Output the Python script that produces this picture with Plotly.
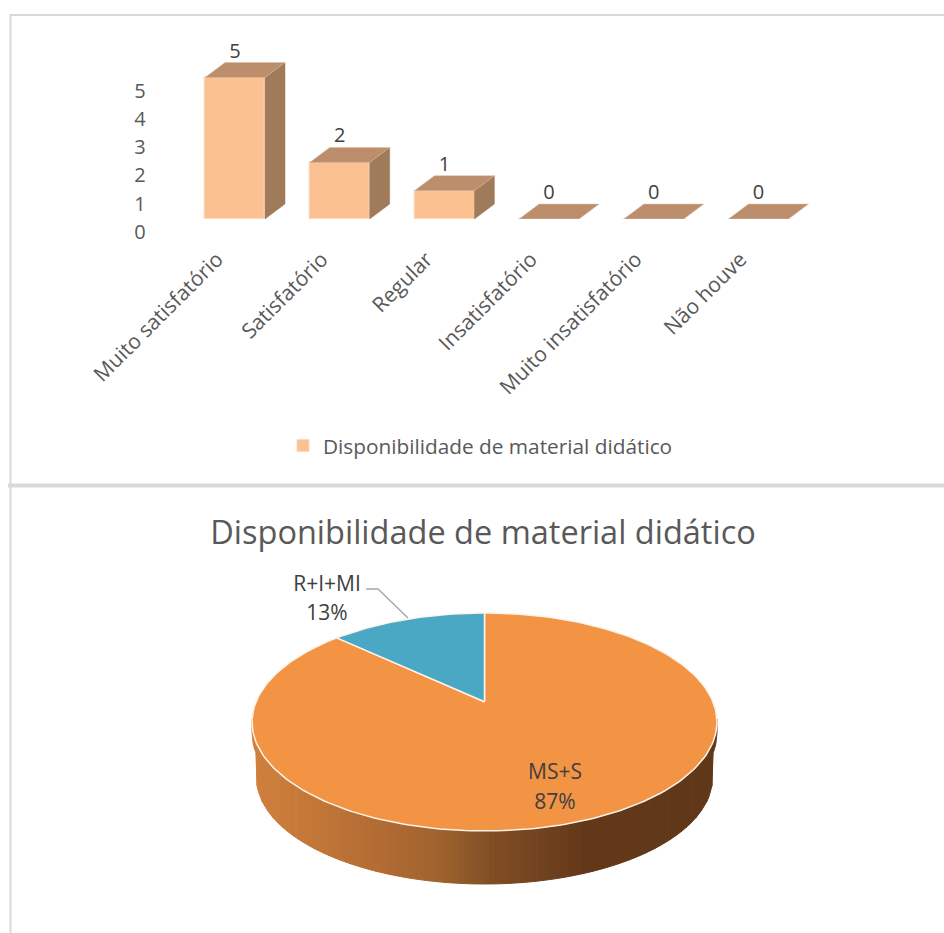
import math
import plotly.graph_objects as go

# ---------- data ----------
categories = ["Muito satisfatório", "Satisfatório", "Regular", "Insatisfatório",
              "Muito insatisfatório", "Não houve"]
bar_values = [5, 2, 1, 0, 0, 0]
y_ticks = [0, 1, 2, 3, 4, 5]
series_name = "Disponibilidade de material didático"
pie_labels = ["R+I+MI", "MS+S"]
pie_values = [13, 87]
title_text = "Disponibilidade de material didático"

# ---------- style / layout constants ----------
W, H = 944, 933
FONT = "Open Sans"
TXT = "#595959"
DARK = "#404040"
FRONT, TOP, SIDE, EDGE = "#FBC190", "#BC8E6B", "#A07B5A", "#FCD9BC"
ORANGE, BLUE = "#F39344", "#4BA8C4"


def pxx(x):
    return x / W


def pxy(y):
    return 1 - y / H


step, unit = 104.7, 28.3
x0px, base_px = 235.0, 219.0
bar_w = 60 / step
dx, dy = 20 / step, 15 / unit
half = bar_w / 2
x_rng = [-0.5, 5.5]
y_rng = [0, 6]
xi = list(range(len(categories)))

fig = go.Figure()

# front faces: the real bars, drawn by the axes
fig.add_trace(go.Bar(x=xi, y=bar_values, width=bar_w, name=series_name,
                     marker=dict(color=FRONT, line=dict(color=EDGE, width=1)),
                     hoverinfo="skip", xaxis="x", yaxis="y"))

# 3-D side and top faces, derived from the values
sx, sy, tx, ty = [], [], [], []
for i, v in zip(xi, bar_values):
    if v > 0:
        r = i + half
        sx += [r, r + dx, r + dx, r, r, None]
        sy += [0, dy, v + dy, v, 0, None]
    l, r = i - half, i + half
    tx += [l, r, r + dx, l + dx, l, None]
    ty += [v, v, v + dy, v + dy, v, None]
fig.add_trace(go.Scatter(x=sx, y=sy, mode="lines", fill="toself", fillcolor=SIDE,
                         line=dict(color=SIDE, width=0.5), showlegend=False,
                         hoverinfo="skip", xaxis="x", yaxis="y"))
fig.add_trace(go.Scatter(x=tx, y=ty, mode="lines", fill="toself", fillcolor=TOP,
                         line=dict(color="#D8BFA8", width=0.5), showlegend=False,
                         hoverinfo="skip", xaxis="x", yaxis="y"))
fig.add_trace(go.Scatter(x=xi, y=[v + dy for v in bar_values], mode="text",
                         text=[str(v) for v in bar_values], textposition="top center",
                         textfont=dict(family=FONT, size=20, color=DARK), cliponaxis=False,
                         showlegend=False, hoverinfo="skip", xaxis="x", yaxis="y"))

# ---------- 3-D pie, on a hidden axis pair measured in page pixels ----------
cx, apex_y = 484.5, 701.7
persp, a_y, c_x = 0.1862, 105.2, 228.4
bot_cy, bot_rx, bot_ry = 778.0, 228.0, 106.0
top_cy, top_rx, top_ry = 722.0, 232.5, 109.0


def project(theta):
    """theta: clockwise angle from 12 o'clock on the pie disc."""
    u, v = math.sin(theta), math.cos(theta)
    d = 1 + persp * v
    return cx + c_x * u / d, apex_y - a_y * v / d


# wall: vertical strips coloured across the width
stops = [(0.0, (208, 128, 60)), (0.12, (196, 120, 56)), (0.30, (176, 106, 51)),
         (0.40, (160, 100, 47)), (0.52, (127, 77, 36)), (0.72, (99, 56, 25)),
         (1.0, (95, 56, 25))]


def wall_colour(t):
    for (t0, c0), (t1, c1) in zip(stops, stops[1:]):
        if t <= t1:
            f = (t - t0) / (t1 - t0)
            return "rgb(%d,%d,%d)" % tuple(round(a + (b - a) * f) for a, b in zip(c0, c1))
    return "rgb(95,56,25)"


N = 90
left, right = cx - top_rx, cx + top_rx


def upper_edge(x):
    q = max(0.0, 1 - ((x - cx) / top_rx) ** 2)
    return top_cy + top_ry * math.sqrt(q) - 3


def lower_edge(x):
    q = 1 - ((x - cx) / bot_rx) ** 2
    if q <= 0:
        return upper_edge(x) + 14
    return max(bot_cy + bot_ry * math.sqrt(q), upper_edge(x) + 14)


for k in range(N):
    xa = left + (right - left) * k / N
    xb = left + (right - left) * (k + 1) / N
    xs = [xa + (xb - xa) * j / 4 for j in range(5)]
    ux = xs + xs[::-1] + [xs[0]]
    uy = [upper_edge(x) for x in xs] + [lower_edge(x) for x in xs[::-1]] + [upper_edge(xs[0])]
    col = wall_colour((k + 0.5) / N)
    fig.add_trace(go.Scatter(x=ux, y=uy, mode="lines", fill="toself", fillcolor=col,
                             line=dict(color=col, width=1), showlegend=False,
                             hoverinfo="skip", xaxis="x2", yaxis="y2"))

# disc sectors, from the shares (first share runs counter-clockwise from 12 o'clock)
total = sum(pie_values)
blue_span = 2 * math.pi * pie_values[0] / total
M = 240
ang_blue = [-blue_span * k / 40 for k in range(41)]
ang_orange = [2 * math.pi * pie_values[1] / total * k / M for k in range(M + 1)]
for angs, col in ((ang_orange, ORANGE), (ang_blue, BLUE)):
    pts = [project(t) for t in angs]
    px_ = [cx] + [p[0] for p in pts] + [cx]
    py_ = [apex_y] + [p[1] for p in pts] + [apex_y]
    fig.add_trace(go.Scatter(x=px_, y=py_, mode="lines", fill="toself", fillcolor=col,
                             line=dict(color="#FBF3EA", width=1.5), showlegend=False,
                             hoverinfo="skip", xaxis="x2", yaxis="y2"))

# leader line
fig.add_trace(go.Scatter(x=[366, 378, 408], y=[589, 589, 618], mode="lines",
                         line=dict(color="#A6A6A6", width=1.3), showlegend=False,
                         hoverinfo="skip", xaxis="x2", yaxis="y2"))

# pie labels
label_x = [327, 555]
name_y = [586, 774]
pct_y = [615, 804]
fig.add_trace(go.Scatter(x=label_x, y=name_y, mode="text", text=pie_labels,
                         textfont=dict(family=FONT, size=21, color=DARK), showlegend=False,
                         hoverinfo="skip", xaxis="x2", yaxis="y2"))
fig.add_trace(go.Scatter(x=label_x, y=pct_y, mode="text", text=[f"{v}%" for v in pie_values],
                         textfont=dict(family=FONT, size=21, color=DARK), showlegend=False,
                         hoverinfo="skip", xaxis="x2", yaxis="y2"))

# ---------- layout ----------
x_left = x0px - step * 0.5
x_right = x_left + step * (x_rng[1] - x_rng[0])
y_bot = base_px
y_top = base_px - unit * (y_rng[1] - y_rng[0])

border = "#D9D9D9"
shapes = [
    dict(type="line", xref="paper", yref="paper", x0=pxx(10.5), x1=pxx(10.5), y0=0, y1=pxy(14),
         line=dict(color=border, width=2)),
    dict(type="line", xref="paper", yref="paper", x0=pxx(10), x1=1, y0=pxy(15), y1=pxy(15),
         line=dict(color=border, width=2)),
    dict(type="line", xref="paper", yref="paper", x0=pxx(8), x1=1, y0=pxy(485.5), y1=pxy(485.5),
         line=dict(color=border, width=4)),
]

fig.update_layout(
    width=W, height=H, autosize=False,
    margin=dict(l=0, r=0, t=0, b=0),
    paper_bgcolor="white", plot_bgcolor="rgba(0,0,0,0)",
    font=dict(family=FONT, color=TXT),
    shapes=shapes,
    bargap=0,
    title=dict(text=title_text, x=pxx(483), xanchor="center", xref="paper",
               y=pxy(533), yanchor="middle", yref="paper",
               font=dict(family=FONT, size=32.5, color=TXT), automargin=False),
    legend=dict(x=pxx(283), y=pxy(446), xanchor="left", yanchor="middle",
                orientation="h", bgcolor="rgba(0,0,0,0)",
                font=dict(family=FONT, size=20.8, color=TXT)),
    xaxis=dict(domain=[pxx(x_left), pxx(x_right)], range=x_rng, tickmode="array",
               tickvals=xi, ticktext=categories, tickangle=-45, showgrid=False,
               zeroline=False, showline=False, ticks="", anchor="y", automargin=False,
               ticklabelstandoff=23, ticklabelshift=-18,
               tickfont=dict(family=FONT, size=21, color=TXT)),
    yaxis=dict(domain=[pxy(y_bot), pxy(y_top)], range=y_rng, tickmode="array",
               tickvals=y_ticks, showgrid=False, zeroline=False, showline=False,
               ticks="", anchor="x", automargin=False, ticklabelstandoff=int(x_left - 146),
               ticklabelshift=13,
               tickfont=dict(family=FONT, size=20, color=TXT)),
    xaxis2=dict(domain=[0, 1], range=[0, W], visible=False, anchor="y2"),
    yaxis2=dict(domain=[0, 1], range=[H, 0], visible=False, anchor="x2"),
)

# the figure fills the whole window: no page margin around it, no toolbar
fig.write_html("out.html", config={"displayModeBar": False},
               post_script="document.body.style.margin='0';")
